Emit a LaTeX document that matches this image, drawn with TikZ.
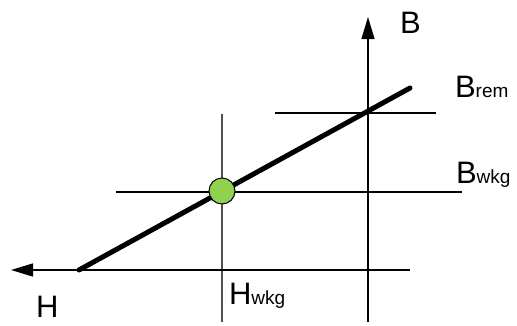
\documentclass[tikz,border=0pt]{standalone}
\usepackage{fontspec}
\setmainfont{Liberation Sans}
\usetikzlibrary{arrows.meta}
\definecolor{dotgreen}{HTML}{92D050}
\definecolor{guide}{HTML}{505050}
\tikzset{
  thin line/.style={line width=1.2pt, black},
  guide line/.style={line width=1.2pt, guide},
  axis/.style={line width=1.4pt, black, -{Triangle[length=22pt,width=13pt]}},
  curve/.style={line width=5pt, black, line cap=round},
  lbl/.style={anchor=base west, inner sep=0pt, outer sep=0pt},
  dot/.style={circle, draw=black, line width=1pt, fill=dotgreen, minimum size=26pt, inner sep=0pt}
}
\newcommand{\bigtxt}[1]{{\fontsize{31}{31}\selectfont #1}}
\newcommand{\smltxt}[1]{{\fontsize{19}{19}\selectfont #1}}
\begin{document}
\begin{tikzpicture}[x=1pt,y=-1pt]
\useasboundingbox (0,0) rectangle (517,325);
% coordinates
\coordinate (Bbot) at (368,322);
\coordinate (Btop) at (368,17);
\coordinate (Hright) at (410,270);
\coordinate (Hleft) at (11,270);
\coordinate (Cstart) at (79,270);
\coordinate (Cend) at (410,88);
\coordinate (RemL) at (275,113);
\coordinate (RemR) at (436,113);
\coordinate (WkL) at (116,192);
\coordinate (WkR) at (462,192);
\coordinate (HwT) at (222,114);
\coordinate (HwB) at (222,322);
% guide lines
\draw[thin line] (RemL) -- (RemR);
\draw[thin line] (WkL) -- (WkR);
\draw[guide line] (HwT) -- (HwB);
% axes
\draw[axis] (Bbot) -- (Btop);
\draw[axis] (Hright) -- (Hleft);
% curve
\draw[curve] (Cstart) -- (Cend);
% working point
\node[dot] (wp) at (222,191) {};
% labels
\node[lbl] (lB) at (400,33) {\bigtxt{B}};
\node[lbl] (lBrem) at (455,97) {\bigtxt{B}\smltxt{rem}};
\node[lbl] (lBwkg) at (456,183) {\bigtxt{B}\smltxt{wkg}};
\node[lbl] (lH) at (36,317) {\bigtxt{H}};
\node[lbl] (lHwkg) at (229,304) {\bigtxt{H}\smltxt{wkg}};
\end{tikzpicture}
\end{document}
